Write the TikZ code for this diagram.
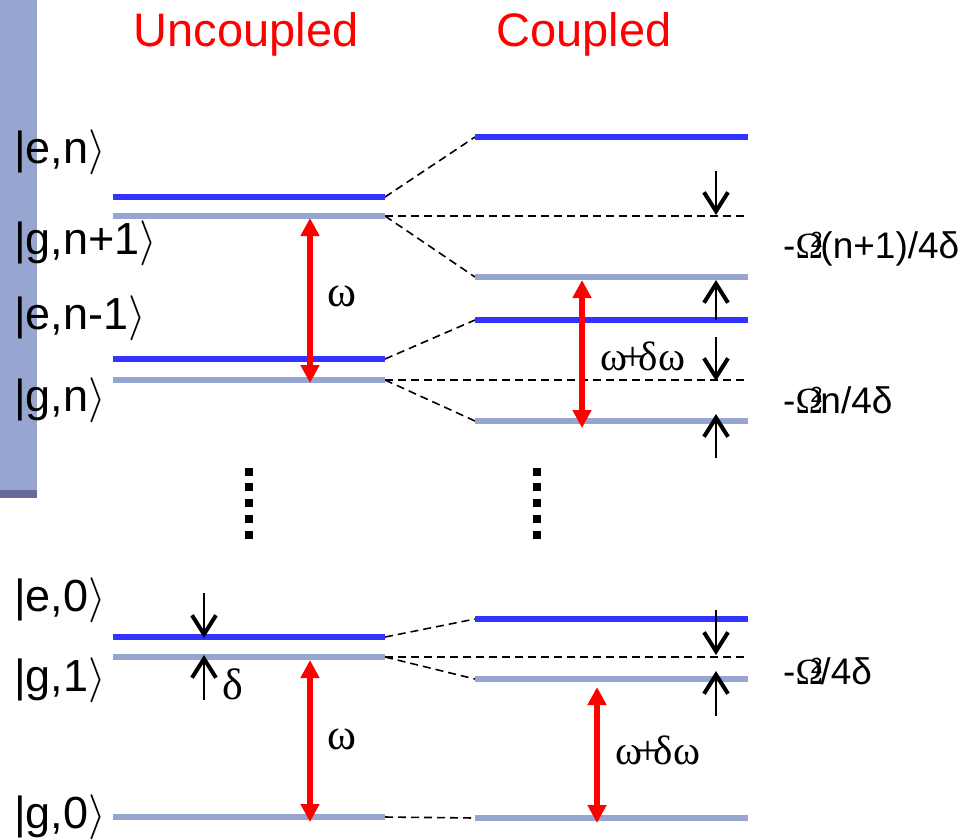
\RequirePackage{fix-cm}
\documentclass[tikz,border=0pt]{standalone}
\usepackage{fontspec}
\setmainfont{Liberation Sans}
\newfontfamily\greekserif{Liberation Serif}
\usetikzlibrary{arrows.meta}

\definecolor{lvblue}{RGB}{51,51,255}
\definecolor{lvgray}{RGB}{151,166,208}
\definecolor{bardark}{RGB}{106,106,154}

\tikzset{
  excited/.style={draw=lvblue, line width=6pt},
  ground/.style={draw=lvgray, line width=6pt},
  link/.style={draw=black, line width=1.6pt, dash pattern=on 8pt off 5pt},
  photon/.style={draw=red, line width=6pt,
    {Triangle[length=18pt,width=18pt]}-{Triangle[length=18pt,width=18pt]}},
  shiftarrow/.style={draw=black, line width=1.6pt,
    -{Straight Barb[length=19pt,width=24pt,line width=4pt]}},
  statelabel/.style={anchor=west, inner sep=0pt, font=\fontsize{45}{54}\selectfont},
  title/.style={anchor=base, inner sep=0pt, text=red, font=\fontsize{47}{56}\selectfont},
  freq/.style={inner sep=0pt, font=\fontsize{44}{52}\selectfont\greekserif},
  freqsum/.style={inner sep=0pt, font=\fontsize{41}{48}\selectfont\greekserif},
  shiftlabel/.style={anchor=west, inner sep=0pt, font=\fontsize{37}{44}\selectfont},
  dot/.style={fill=black}
}

\newcommand\ketlabel[1]{|#1$\rangle$}
\newcommand\omsq{-{\greekserif Ω}\kern-0.34em\raisebox{0.3em}{\fontsize{22}{26}\selectfont 2}\kern-0.06em}

\begin{document}
\begin{tikzpicture}[x=1pt,y=-1pt]
\useasboundingbox (0,0) rectangle (965,839);

% side bar
\fill[lvgray] (0,0) rectangle (37,490);
\fill[bardark] (0,490) rectangle (37,498);

% titles
\node[title] (tU) at (246,46) {Uncoupled};
\node[title] (tC) at (584,46) {Coupled};

% state labels
\node[statelabel] (kEn)  at (14,152) {\ketlabel{e,n}};
\node[statelabel] (kGn1) at (14,243) {\ketlabel{g,n+1}};
\node[statelabel] (kEn1) at (14,318) {\ketlabel{e,n-1}};
\node[statelabel] (kGn)  at (14,400) {\ketlabel{g,n}};
\node[statelabel] (kE0)  at (14,600) {\ketlabel{e,0}};
\node[statelabel] (kG1)  at (14,680) {\ketlabel{g,1}};
\node[statelabel] (kG0)  at (14,817) {\ketlabel{g,0}};

% uncoupled level end points
\foreach \n/\y in {uEn/197, uGn1/216, uEn1/359, uGn/380, uE0/637, uG1/657, uG0/817}{
  \coordinate (\n-l) at (113,\y);
  \coordinate (\n-r) at (385,\y);
}
% coupled level end points
\foreach \n/\y in {cTop/137, cMidA/216, cGA/277, cEA/320, cMidB/380, cGB/421, cE0/619, cMidC/657, cGC/679, cG0/818}{
  \coordinate (\n-l) at (475,\y);
  \coordinate (\n-r) at (748,\y);
}

% correlation lines
\draw[link] (uEn-r) -- (cTop-l);
\draw[link] (uGn1-r) -- (cGA-l);
\draw[link] (uGn1-r) -- (cMidA-r);
\draw[link] (uEn1-r) -- (cEA-l);
\draw[link] (uGn-r) -- (cGB-l);
\draw[link] (uGn-r) -- (cMidB-r);
\draw[link] (uE0-r) -- (cE0-l);
\draw[link] (uG1-r) -- (cGC-l);
\draw[link] (uG1-r) -- (cMidC-r);
\draw[link] (uG0-r) -- (cG0-l);

% uncoupled levels
\draw[excited] (uEn-l) -- (uEn-r);
\draw[ground]  (uGn1-l) -- (uGn1-r);
\draw[excited] (uEn1-l) -- (uEn1-r);
\draw[ground]  (uGn-l) -- (uGn-r);
\draw[excited] (uE0-l) -- (uE0-r);
\draw[ground]  (uG1-l) -- (uG1-r);
\draw[ground]  (uG0-l) -- (uG0-r);

% coupled levels
\draw[excited] (cTop-l) -- (cTop-r);
\draw[ground]  (cGA-l) -- (cGA-r);
\draw[excited] (cEA-l) -- (cEA-r);
\draw[ground]  (cGB-l) -- (cGB-r);
\draw[excited] (cE0-l) -- (cE0-r);
\draw[ground]  (cGC-l) -- (cGC-r);
\draw[ground]  (cG0-l) -- (cG0-r);

% transitions
\coordinate (pA1) at (310,218);  \coordinate (pA2) at (310,383);
\coordinate (pB1) at (310,660);  \coordinate (pB2) at (310,822);
\coordinate (pC1) at (582,280);  \coordinate (pC2) at (582,428);
\coordinate (pD1) at (597,687);  \coordinate (pD2) at (597,823);
\draw[photon] (pA1) -- (pA2);
\draw[photon] (pB1) -- (pB2);
\draw[photon] (pC1) -- (pC2);
\draw[photon] (pD1) -- (pD2);

\node[freq] (wA) at (342,296) {ω};
\node[freq] (wB) at (342,739) {ω};
\node[freqsum] (wC) at (643,356) {ω\kern-0.16em+\kern-0.14emδω};
\node[freqsum] (wD) at (658,750) {ω\kern-0.16em+\kern-0.14emδω};

% level shifts
\coordinate (sA1) at (716,171);  \coordinate (sA2) at (716,215);
\coordinate (sB1) at (716,320);  \coordinate (sB2) at (716,280);
\coordinate (sC1) at (716,337);  \coordinate (sC2) at (716,381);
\coordinate (sD1) at (716,458);  \coordinate (sD2) at (716,414);
\coordinate (sE1) at (716,610);  \coordinate (sE2) at (716,655);
\coordinate (sF1) at (716,716);  \coordinate (sF2) at (716,671);
\coordinate (dA1) at (204,593);  \coordinate (dA2) at (204,638);
\coordinate (dB1) at (204,700);  \coordinate (dB2) at (204,655);
\foreach \a/\b in {sA1/sA2, sB1/sB2, sC1/sC2, sD1/sD2, sE1/sE2, sF1/sF2, dA1/dA2, dB1/dB2}
  \draw[shiftarrow] (\a) -- (\b);

\node[freq] (dl) at (233,684) {δ};

\node[shiftlabel] (lA) at (783,249) {\omsq(n+1)/4δ};
\node[shiftlabel] (lB) at (783,400) {\omsq n/4δ};
\node[shiftlabel] (lC) at (783,671) {\omsq/4δ};

% ellipsis dots
\foreach \y in {472,487,503,519,535}{
  \fill[dot] (245,\y-4) rectangle ++(8,8);
  \fill[dot] (533,\y-4) rectangle ++(8,8);
}
\end{tikzpicture}
\end{document}
